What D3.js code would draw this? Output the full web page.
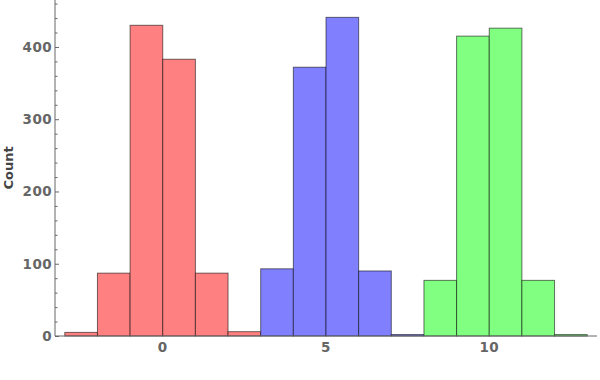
<!DOCTYPE html>
<html><head><meta charset="utf-8">
<script src="https://cdn.jsdelivr.net/npm/d3@7"></script>
<style>body{margin:0;background:#fff}svg{display:block}</style>
</head><body>
<svg id="c" width="600" height="380"></svg>
<script>
// bin edges (width 1) and counts per series
const redStart = -3;
const redCounts = [5, 87, 430, 383, 87, 6];
const blueStart = 3;
const blueCounts = [93, 372, 441, 90, 2];
const greenStart = 8;
const greenCounts = [77, 415, 426, 77, 2];
const xTicks = [0, 5, 10];
const yTicks = [0, 100, 200, 300, 400];
const yLabel = "Count";

const series = [
  {start: redStart, counts: redCounts, fill: "#ff8080"},
  {start: blueStart, counts: blueCounts, fill: "#8080ff"},
  {start: greenStart, counts: greenCounts, fill: "#80ff80"}
];

const svg = d3.select("#c");
const x = d3.scaleLinear().domain([-3.3, 13.3]).range([55, 597]);
const y = d3.scaleLinear().domain([0, 465]).range([336, 0]);
const axisCol = "#666";
const font = "'DejaVu Sans', sans-serif";

// bars
series.forEach(s => {
  const bins = s.counts.map((c, i) => ({x0: s.start + i, x1: s.start + i + 1, c}));
  svg.append("g").selectAll("rect").data(bins).join("rect")
    .attr("x", d => x(d.x0))
    .attr("width", d => x(d.x1) - x(d.x0))
    .attr("y", d => y(d.c))
    .attr("height", d => y(0) - y(d.c))
    .attr("fill", s.fill)
    .attr("stroke", "#000")
    .attr("stroke-opacity", 0.55)
    .attr("stroke-width", 1);
});

// y axis
const yMinor = d3.range(0, 465, 20).filter(v => v % 100 !== 0);
const gy = svg.append("g").attr("transform", "translate(55,0)");
gy.call(d3.axisRight(y).tickValues(yTicks).tickSize(4).tickFormat(""));
gy.append("g").call(d3.axisRight(y).tickValues(yMinor).tickSize(2.5).tickFormat(""));
gy.selectAll("path.domain").filter((d, i, n) => i > 0).remove();
gy.select("path.domain").attr("d", "M0,0V336");
gy.selectAll("line").attr("stroke", axisCol);
gy.selectAll("path").attr("stroke", axisCol);
svg.append("g").selectAll("text").data(yTicks).join("text")
  .attr("x", 52).attr("y", d => y(d)).attr("dy", "0.36em")
  .attr("text-anchor", "end")
  .attr("font-family", font).attr("font-weight", "bold").attr("font-size", 13.5)
  .attr("letter-spacing", 0.4)
  .attr("fill", axisCol).text(d => d);

// x axis
const gx = svg.append("g").attr("transform", "translate(0,336)");
gx.call(d3.axisTop(x).tickValues(xTicks).tickSize(0).tickFormat(""));
gx.select("path.domain").attr("d", "M55,0H597").attr("stroke", axisCol);
svg.append("g").selectAll("text").data(xTicks).join("text")
  .attr("x", d => x(d)).attr("y", 352)
  .attr("text-anchor", "middle")
  .attr("font-family", font).attr("font-weight", "bold").attr("font-size", 13.5)
  .attr("letter-spacing", 0.4)
  .attr("fill", axisCol).text(d => d);

// y label
svg.append("text")
  .attr("transform", "translate(13,168) rotate(-90)")
  .attr("text-anchor", "middle")
  .attr("font-family", font).attr("font-weight", "bold").attr("font-size", 13)
  .attr("fill", "#444").text(yLabel);
</script>
</body></html>
